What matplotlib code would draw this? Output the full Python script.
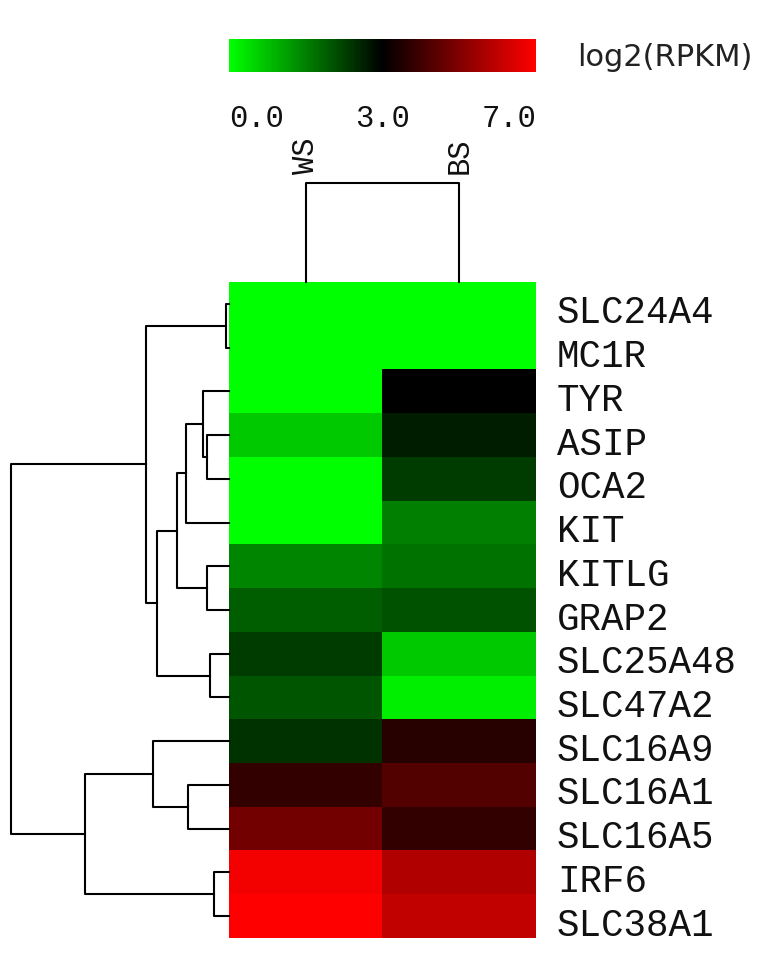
import numpy as np
import matplotlib
matplotlib.use("Agg")
import matplotlib.pyplot as plt
from matplotlib.colors import LinearSegmentedColormap, TwoSlopeNorm
from matplotlib.cm import ScalarMappable
from matplotlib.transforms import blended_transform_factory, ScaledTranslation

# ---------------- data ----------------
genes = ["SLC24A4", "MC1R", "TYR", "ASIP", "OCA2", "KIT", "KITLG", "GRAP2",
         "SLC25A48", "SLC47A2", "SLC16A9", "SLC16A1", "SLC16A5", "IRF6", "SLC38A1"]
samples = ["WS", "BS"]
ws_values = [0.0, 0.0, 0.0, 0.65, 0.0, 0.0, 1.45, 1.9, 2.3, 2.0, 2.4, 3.8, 4.8, 6.8, 7.0]
bs_values = [0.0, 0.0, 3.0, 2.65, 2.3, 1.5, 1.65, 2.05, 0.65, 0.2, 3.6, 4.3, 3.8, 5.75, 6.0]

# row linkage: (left, right, height); ids >= 15 refer to earlier merges
row_linkage = [
    (0, 1, 3), (3, 4, 22), (2, 16, 26), (17, 5, 43), (6, 7, 22),
    (18, 19, 52), (8, 9, 19), (20, 21, 72), (15, 22, 83), (11, 12, 41),
    (10, 24, 76), (13, 14, 15), (25, 26, 144), (23, 27, 218),
]
col_linkage = [(0, 1, 1.0)]

cb_ticks = [0.0, 3.0, 7.0]
cb_ticklabels = ["0.0", "3.0", "7.0"]
cb_label = "log2(RPKM)"

# ---------------- figure ----------------
W, H = 782, 961
fig = plt.figure(figsize=(W / 100, H / 100), dpi=100)

def px_axes(x0, y0, x1, y1):
    return fig.add_axes([x0 / W, 1 - y1 / H, (x1 - x0) / W, (y1 - y0) / H])

def fy(y):
    return 1 - y / H

cmap = LinearSegmentedColormap.from_list("gbr", [(0, 1, 0), (0, 0, 0), (1, 0, 0)])
norm = TwoSlopeNorm(vmin=0, vcenter=3, vmax=7)

mono = "Liberation Mono"
hx0, hy0, hx1, hy1 = 229, 282, 536, 938

# heatmap
ax = px_axes(hx0, hy0, hx1, hy1)
data = np.column_stack([ws_values, bs_values])
ax.imshow(data, cmap=cmap, norm=norm, aspect="auto", interpolation="nearest")
ax.set_xticks([])
ax.set_yticks([])
for s in ax.spines.values():
    s.set_visible(False)

lbl_tr = blended_transform_factory(fig.transFigure, ax.transData) + \
    ScaledTranslation(0, -0.195, fig.dpi_scale_trans)
for i, g in enumerate(genes):
    ax.text(557 / W, i, g, transform=lbl_tr, ha="left", va="baseline",
            family=mono, fontsize=27, color="#111111")

lw = 1.5

def draw_dendro(axd, linkage, n, orient):
    pos = {i: float(i) for i in range(n)}
    hgt = {i: 0.0 for i in range(n)}
    for k, (a, b, h) in enumerate(linkage):
        xs = [hgt[a], h, h, hgt[b]]
        ys = [pos[a], pos[a], pos[b], pos[b]]
        if orient == "left":
            axd.plot(xs, ys, color="black", lw=lw, clip_on=False)
        else:
            axd.plot(ys, xs, color="black", lw=lw, clip_on=False)
        pos[n + k] = (pos[a] + pos[b]) / 2
        hgt[n + k] = h

# row dendrogram
axr = px_axes(9, hy0, hx0, hy1)
draw_dendro(axr, row_linkage, len(genes), "left")
axr.set_ylim(len(genes) - 0.5, -0.5)
axr.set_xlim(220, 0)
axr.axis("off")

# column dendrogram
axc = px_axes(hx0, 183, hx1, hy0)
draw_dendro(axc, col_linkage, len(samples), "top")
axc.set_xlim(-0.5, len(samples) - 0.5)
axc.set_ylim(0, 1.0)
axc.axis("off")
col_tr = blended_transform_factory(axc.transData, fig.transFigure)
for i, s in enumerate(samples):
    axc.text(i, fy(174), s, transform=col_tr, rotation=90, ha="center",
             va="bottom", family=mono, fontsize=22, color="#111111")

# colorbar
cax = px_axes(hx0, 39, hx1, 72)
cb = fig.colorbar(ScalarMappable(norm=norm, cmap=cmap), cax=cax, orientation="horizontal")
cb.outline.set_visible(False)
cb.set_ticks([])
tick_tr = blended_transform_factory(cax.transData, fig.transFigure)
for v, t, ha in zip(cb_ticks, cb_ticklabels, ["left", "center", "right"]):
    cax.text(v, fy(127), t, transform=tick_tr, ha=ha, va="baseline",
             family=mono, fontsize=22, color="#111111")
fig.text(577 / W, fy(57), cb_label, ha="left", va="center",
         fontsize=22, color="#222222", family="DejaVu Sans")

fig.savefig("out.png", dpi=100)
